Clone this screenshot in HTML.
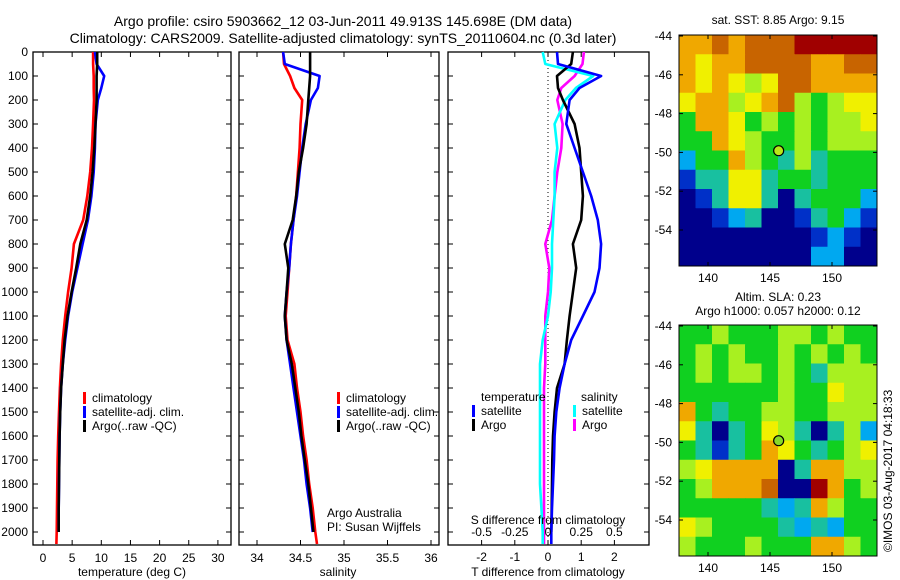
<!DOCTYPE html>
<html><head><meta charset="utf-8"><style>
body{margin:0;background:#fff;}
svg{display:block;font-family:"Liberation Sans",sans-serif;}
text{fill:#000;}
</style></head><body>
<svg id="c" width="900" height="580" viewBox="0 0 900 580">
<text x="343" y="26" font-size="14" text-anchor="middle">Argo profile: csiro 5903662_12 03-Jun-2011 49.913S 145.698E (DM data)</text>
<text x="343" y="43" font-size="14" text-anchor="middle">Climatology: CARS2009. Satellite-adjusted climatology: synTS_20110604.nc (0.3d later)</text>
<text x="778" y="24" font-size="12" text-anchor="middle">sat. SST: 8.85 Argo: 9.15</text>
<text x="778" y="301" font-size="12" text-anchor="middle">Altim. SLA: 0.23</text>
<text x="778" y="315" font-size="12" text-anchor="middle">Argo h1000: 0.057 h2000: 0.12</text>
<text x="0" y="0" font-size="12" transform="translate(892,552) rotate(-90)">©IMOS 03-Aug-2017 04:18:33</text>
</svg>
<script>
const depths=[0,50,100,150,200,300,400,500,600,700,800,900,1000,1100,1200,1300,1400,1500,1600,1700,1800,1900,2000,2050];
const tClim=[8.6,8.6,8.7,8.7,8.75,8.6,8.4,8.1,7.6,6.9,5.3,4.9,4.3,3.8,3.4,3.1,2.9,2.75,2.6,2.5,2.45,2.4,2.35,2.3];
const tSat=[8.9,9.2,10.5,10.0,9.4,9.0,8.9,8.7,8.3,7.7,6.8,5.9,5.0,4.3,3.8,3.4,3.1,2.95,2.85,2.8,2.75,2.7,2.7];
const tArgo=[9.3,9.3,9.2,9.2,9.2,9.0,8.8,8.5,8.1,7.5,6.4,5.7,4.9,4.2,3.7,3.4,3.1,2.95,2.85,2.8,2.75,2.7,2.7];
const sClim=[34.30,34.31,34.38,34.43,34.52,34.50,34.49,34.47,34.45,34.42,34.39,34.37,34.35,34.33,34.35,34.43,34.46,34.50,34.53,34.57,34.60,34.64,34.67,34.69];
const sSat=[34.30,34.32,34.72,34.70,34.62,34.56,34.52,34.49,34.46,34.42,34.39,34.37,34.34,34.32,34.34,34.38,34.42,34.46,34.50,34.54,34.57,34.61,34.64];
const sArgo=[34.61,34.61,34.61,34.60,34.59,34.57,34.53,34.48,34.45,34.41,34.32,34.36,34.34,34.32,34.34,34.40,34.44,34.48,34.51,34.55,34.59,34.62,34.65];
const dTSat=[0.27,0.3,1.6,0.95,0.65,0.55,0.8,1.05,1.3,1.5,1.6,1.55,1.4,1.05,0.7,0.5,0.35,0.25,0.2,0.18,0.15,0.12,0.1,0.1];
const dTArgo=[0.75,0.7,0.27,0.3,0.45,0.8,0.95,1.0,1.05,1.0,0.75,0.85,0.75,0.65,0.57,0.5,0.27,0.2,0.15,0.13,0.12,0.11,0.1];
const dSSat=[-0.04,-0.02,0.34,0.21,0.13,0.05,0.07,0.05,0.05,0.04,0.03,0.03,0.02,0.0,-0.04,-0.06,-0.06,-0.06,-0.06,-0.06,-0.06,-0.05,-0.04,-0.04];
const dSArgo=[0.27,0.26,0.2,0.1,0.07,0.11,0.1,0.07,0.05,0.03,-0.02,0.01,0.0,-0.02,-0.02,-0.02,-0.03,-0.03,-0.03,-0.03,-0.03,-0.03,-0.03,-0.03];
const depthTicks=[0,100,200,300,400,500,600,700,800,900,1000,1100,1200,1300,1400,1500,1600,1700,1800,1900,2000];
const tTicks=[0,5,10,15,20,25,30];
const sTicks=[34,34.5,35,35.5,36];
const dTTicks=[-2,-1,0,1,2];
const dSTicks=[-0.5,-0.25,0,0.25,0.5];
const sstGrid=["OODODDDRRRRR","OYOODDDDOODD","OYOYLYDDOOOO","YOOLYODLGLYY","GOOYGLGLGLLY","GGOYLGGLGLLL","CGGOLGTLTGGG","BTTYYTGGTGGG","NBTYYTNTGGGC","NNBCTNNBTGCB","NNNNNNNNBCBN","NNNNNNNNCCNN"];
const slaGrid=["GGLGGGLLGLGG","GLGLGGLGLGLG","GLGLLGLGTLLL","GGGGGGLGGYLL","OGTGGLLGGLLL","YTNTGYLTNTLC","GTBTGOYGTGLY","LYOOOONTOOLL","GLOOODNNROGL","GGGGGTCTOLGG","YLGGGGTCTCGG","LGGGLGGGOOLG"];
const latTicks=[-44,-46,-48,-50,-52,-54];
const lonTicks=[140,145,150];

const svg=document.getElementById('c');
const NS='http://www.w3.org/2000/svg';
function mk(tag,at,parent){const e=document.createElementNS(NS,tag);for(const k in at)e.setAttribute(k,at[k]);(parent||svg).appendChild(e);return e;}
const top0=52, bot=545;
const yD=d=>top0+d*0.24;

function panel(name,x0,x1,xf,xticks,xlabelFmt,showY){
  const g=mk('g',{});
  
  
  const r=mk('rect',{x:x0,y:top0,width:x1-x0,height:bot-top0,fill:'#fff',stroke:'#000','stroke-width':1.3},g);
  
  
  depthTicks.forEach(d=>{
    const y=yD(d);
    mk('line',{x1:x0,x2:x0+5,y1:y,y2:y,stroke:'#000'},g);
    mk('line',{x1:x1-5,x2:x1,y1:y,y2:y,stroke:'#000'},g);
    if(showY){const t=mk('text',{x:x0-5,y:y+4,'font-size':12,'text-anchor':'end'},g);t.textContent=d;
      
      }
  });
  xticks.forEach(v=>{
    const x=xf(v);
    mk('line',{x1:x,x2:x,y1:bot,y2:bot-5,stroke:'#000'},g);
    mk('line',{x1:x,x2:x,y1:top0,y2:top0+5,stroke:'#000'},g);
    if(xlabelFmt){const t=mk('text',{x:x,y:bot+17,'font-size':12,'text-anchor':'middle'},g);t.textContent=xlabelFmt(v);
      
      }
  });
  return g;
}
function line(g,vals,xf,color,name){
  const pts=vals.map((v,i)=>xf(v).toFixed(1)+','+yD(depths[i]).toFixed(1)).join(' ');
  const p=mk('polyline',{points:pts,fill:'none',stroke:color,'stroke-width':2.6,'stroke-linejoin':'round'},g);
  
  
}
function legend(g,x,y,items){
  items.forEach((it,i)=>{
    const yy=y+i*14;
    mk('rect',{x:x,y:yy-10,width:3,height:12,fill:it[1]},g);
    const t=mk('text',{x:x+9,y:yy,'font-size':12},g);t.textContent=it[0];
    
    
  });
}
function label(txt,x,y,name,anchor){const t=mk('text',{x:x,y:y,'font-size':12,'text-anchor':anchor||'middle'});t.textContent=txt;
  
  }

// Panel 1 temperature
const xT=v=>43+v*5.83;
const g1=panel('temperature-panel',33,231,xT,tTicks,v=>v,true);
line(g1,tClim,xT,'#ff0000','temp-climatology-line');
line(g1,tSat,xT,'#0000ff','temp-satellite-line');
line(g1,tArgo,xT,'#000000','temp-argo-line');
legend(g1,83,402,[['climatology','#ff0000'],['satellite-adj. clim.','#0000ff'],['Argo(..raw -QC)','#000']]);
label('temperature (deg C)',132,576,'temperature-axis-title');

// Panel 2 salinity
const xS=v=>257+(v-34)*87;
const g2=panel('salinity-panel',239,439,xS,sTicks,v=>v,false);
line(g2,sClim,xS,'#ff0000','sal-climatology-line');
line(g2,sSat,xS,'#0000ff','sal-satellite-line');
line(g2,sArgo,xS,'#000000','sal-argo-line');
legend(g2,337,402,[['climatology','#ff0000'],['satellite-adj. clim.','#0000ff'],['Argo(..raw -QC)','#000']]);
label('Argo Australia',327,517,'credit-line1','start');
label('PI: Susan Wijffels',327,531,'credit-line2','start');
label('salinity',338,576,'salinity-axis-title');

// Panel 3 differences
const xDT=v=>548+v*33.2;
const xDS=v=>548+v*4*33.2;
const g3=panel('difference-panel',448,649,xDT,dTTicks,null,false);
mk('line',{x1:548,x2:548,y1:top0,y2:bot,stroke:'#000','stroke-dasharray':'1,3'},g3);
line(g3,dSArgo,xDS,'#ff00ff','sal-diff-argo-line');
line(g3,dSSat,xDS,'#00ffff','sal-diff-satellite-line');
line(g3,dTArgo,xDT,'#000000','temp-diff-argo-line');
line(g3,dTSat,xDT,'#0000ff','temp-diff-satellite-line');
dSTicks.forEach(v=>label(String(v),xDS(v),536,'s-diff-tick-label'));
dTTicks.forEach(v=>label(String(v),xDT(v),561,'t-diff-tick-label'));
label('S difference from climatology',548,524,'s-diff-axis-title');
label('T difference from climatology',548,576,'t-diff-axis-title');
label('temperature',481,401,'legend-temperature-header','start');
label('salinity',581,401,'legend-salinity-header','start');
legend(g3,472,415,[['satellite','#0000ff'],['Argo','#000']]);
legend(g3,573,415,[['satellite','#00ffff'],['Argo','#ff00ff']]);

// maps
const cmap={N:'#00008c',B:'#0030c8',C:'#00a8f0',T:'#18c0a0',G:'#10d020',L:'#a8f020',Y:'#f0f000',O:'#f0a800',D:'#c86400',R:'#a00000'};
function map(name,grid,y0,y1,marker){
  const x0=679,x1=877;
  const g=mk('g',{});
  
  
  const cw=(x1-x0)/grid[0].length, ch=(y1-y0)/grid.length;
  grid.forEach((row,r)=>{for(let c=0;c<row.length;c++){
    mk('rect',{x:x0+c*cw,y:y0+r*ch,width:cw+0.5,height:ch+0.5,fill:cmap[row[c]]},g);
  }});
  mk('rect',{x:x0,y:y0,width:x1-x0,height:y1-y0,fill:'none',stroke:'#000','stroke-width':1},g);
  const latY=l=>y0+1+(-44-l)*19.4;
  const lonX=l=>708+(l-140)*12.4;
  latTicks.forEach(l=>{const y=latY(l);
    mk('line',{x1:x0,x2:x0+4,y1:y,y2:y,stroke:'#000'},g);
    mk('line',{x1:x1-4,x2:x1,y1:y,y2:y,stroke:'#000'},g);
    const t=mk('text',{x:x0-7,y:y+4,'font-size':12,'text-anchor':'end'},g);t.textContent=l;
    
    });
  lonTicks.forEach(l=>{const x=lonX(l);
    mk('line',{x1:x,x2:x,y1:y1,y2:y1-4,stroke:'#000'},g);
    mk('line',{x1:x,x2:x,y1:y0,y2:y0+4,stroke:'#000'},g);
    const t=mk('text',{x:x,y:y1+16,'font-size':12,'text-anchor':'middle'},g);t.textContent=l;
    
    });
  const m=mk('circle',{cx:lonX(145.698),cy:latY(-49.913),r:5,fill:marker,stroke:'#000','stroke-width':1.2},g);
  
  
}
map('sst-map',sstGrid,35,266,'#b8e818');
map('sla-map',slaGrid,325,556,'#88d828');
</script>
</body></html>
